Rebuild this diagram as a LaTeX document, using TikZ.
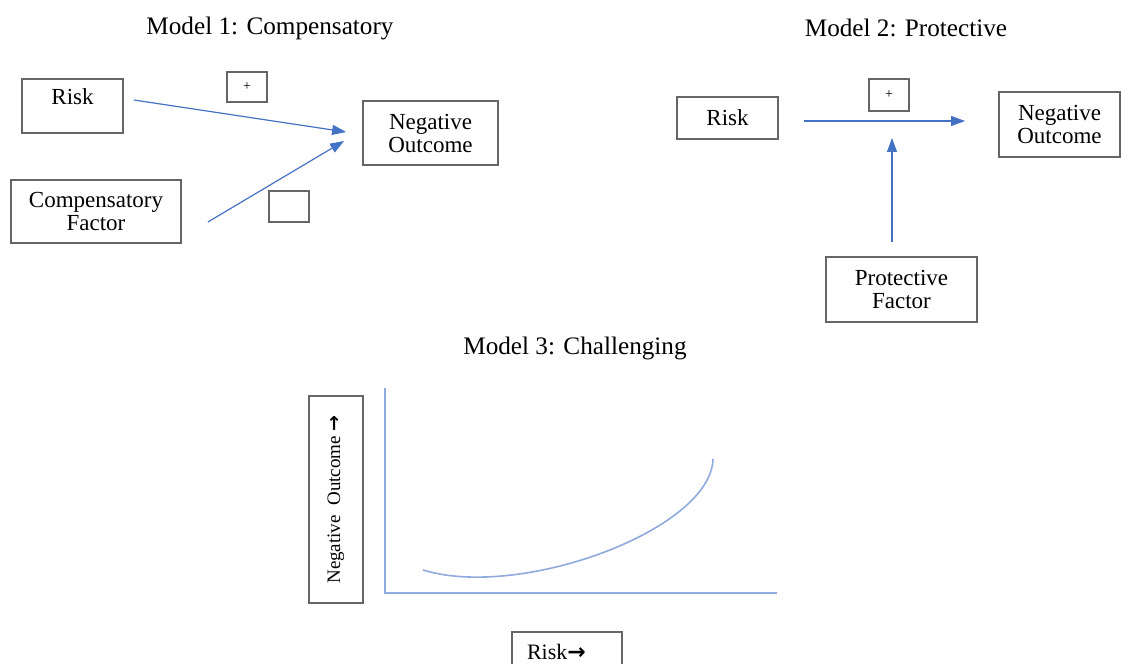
\documentclass[tikz,border=0pt]{standalone}
\usepackage{fontspec}
\setmainfont{Liberation Serif}
\newfontfamily\arrowfont{DejaVu Sans}
\usetikzlibrary{arrows.meta}
\usetikzlibrary{calc}
\usetikzlibrary{positioning}
\definecolor{arrowblue}{RGB}{68,114,196}
\definecolor{axisblue}{RGB}{143,170,220}

\begin{document}
\begin{tikzpicture}[x=0.5pt, y=-0.5pt,
        nodes={font=\fontsize{11.5}{11.5}\selectfont},
        box_style/.style={rectangle, draw=black!60, line width=0.9pt, align=center, inner sep=0pt},
        sign_style/.style={box_style, minimum width=20pt, minimum height=15pt, font=\fontsize{7}{8}\selectfont},
        title_style/.style={font=\fontsize{12.6}{14}\selectfont},
        arrow_style/.style={-{Triangle[length=7pt, width=5pt]}, draw=arrowblue, line width=0.6pt},
        axis_style/.style={draw=axisblue, line width=0.8pt}]

      \useasboundingbox (0,0) rectangle (1122,663);

      % Model 1
      \node[title_style] (title_a) at (270,28) {Model 1: Compensatory};
      \node[box_style, minimum width=50.5pt, minimum height=27pt, text height=8pt, text depth=9pt] (risk_a) at (72.5,106) {Risk};
      \node[box_style, minimum width=85pt, minimum height=31.5pt] (comp_a) at (96,211.5) {Compensatory\\Factor};
      \node[box_style, minimum width=67.5pt, minimum height=32pt] (neg_a) at (430.5,133) {Negative\\Outcome};
      \node[sign_style] (plus_a) at (247,87) {+};
      \node[sign_style, minimum height=15.5pt] (blank_a) at (289,206.5) {};

      \draw[arrow_style] ($(risk_a.east)+(10,-6)$) -- ($(neg_a.west)+(-16,-1)$);
      \draw[arrow_style] ($(comp_a.east)+(26,10.5)$) -- ($(neg_a.west)+(-18,8)$);

      % Model 2
      \node[title_style] (title_b) at (906,28) {Model 2: Protective};
      \node[box_style, minimum width=50.5pt, minimum height=21pt] (risk_b) at (727.5,118) {Risk};
      \node[sign_style, minimum height=16pt] (plus_b) at (889,95) {+};
      \node[box_style, minimum width=60.5pt, minimum height=32.5pt] (neg_b) at (1059.5,124.5) {Negative\\Outcome};
      \node[box_style, minimum width=75.5pt, minimum height=32.5pt] (prot_b) at (901.5,289.5) {Protective\\Factor};
      \coordinate (join_b) at (892,138);

      \draw[arrow_style] ($(risk_b.east)+(25,3)$) -- ($(neg_b.west)+(-33,-3.5)$);
      \draw[arrow_style] ($(prot_b.north)+(-9.5,-14)$) -- (join_b);

      % Model 3
      \node[title_style] (title_c) at (575,348) {Model 3: Challenging};
      \draw[axis_style] (385,388) -- (385,593) -- (777,593);
      \draw[axis_style] (423,570) .. controls (520,600) and (711,530) .. (713,459);

      \node[box_style, rotate=90, minimum width=103.5pt, minimum height=27pt, font=\fontsize{9.5}{10}\selectfont] (ylab_c) at (336,499.5) {Negative\ \ Outcome {\arrowfont\bfseries →}};
      \node[box_style, minimum width=55pt, minimum height=20pt, text width=40pt, align=left, font=\fontsize{11}{12}\selectfont] (xlab_c) at (567,652) {Risk{\arrowfont\bfseries →}};
    \end{tikzpicture}
\end{document}
